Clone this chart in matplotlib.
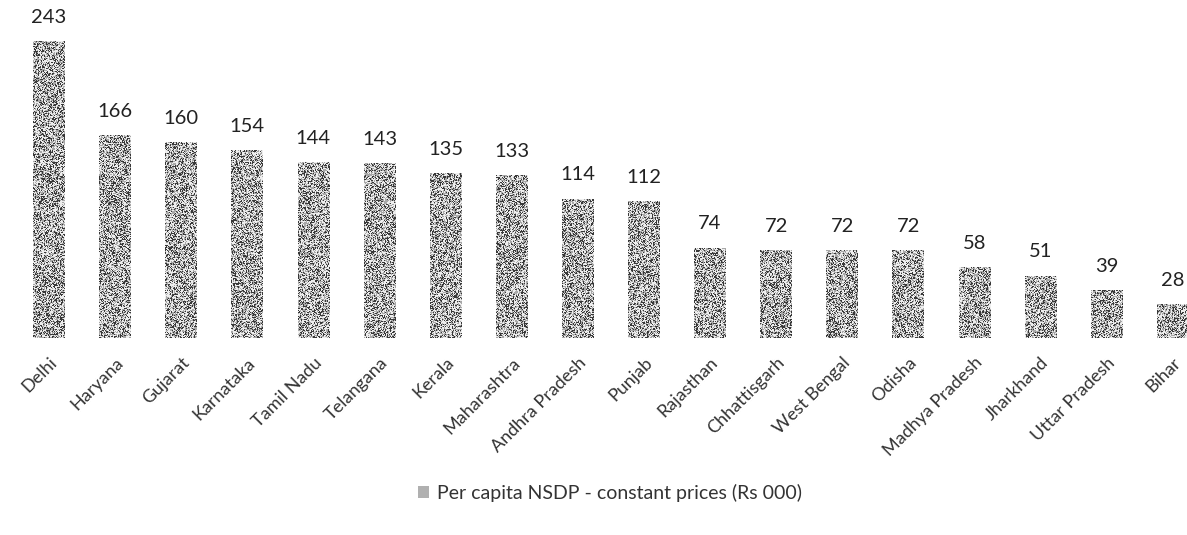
import numpy as np
import matplotlib
matplotlib.use("Agg")
import matplotlib.pyplot as plt
from matplotlib.patches import Patch

states = ["Delhi", "Haryana", "Gujarat", "Karnataka", "Tamil Nadu", "Telangana",
          "Kerala", "Maharashtra", "Andhra Pradesh", "Punjab", "Rajasthan",
          "Chhattisgarh", "West Bengal", "Odisha", "Madhya Pradesh", "Jharkhand",
          "Uttar Pradesh", "Bihar"]
nsdp_per_capita = [243, 166, 160, 154, 144, 143, 135, 133, 114, 112, 74,
                   72, 72, 72, 58, 51, 39, 28]
series_label = "Per capita NSDP - constant prices (Rs 000)"

plt.rcParams["font.family"] = ["Lato", "DejaVu Sans"]

W, H = 1187, 535
fig = plt.figure(figsize=(W / 100, H / 100), dpi=100)
base_px = 338
ax = fig.add_axes([0, 1 - base_px / H, 1, base_px / H])

step = 66.1
x0 = 49
ax.set_xlim(-x0 / step, (W - x0) / step)
ax.set_ylim(0, base_px / 1.222)

x = np.arange(len(states))
bars = ax.bar(x, nsdp_per_capita, width=0.48, color="#a8a8a8", edgecolor="none")

# grainy stipple texture inside each bar
rng = np.random.default_rng(7)
tex = rng.random((700, 1300))
tex = np.where(tex < 0.28, 0.22, np.where(tex < 0.62, 0.66, 0.93))
xl, yl = ax.get_xlim(), ax.get_ylim()
for b in bars:
    im = ax.imshow(tex, cmap="gray", vmin=0, vmax=1, interpolation="nearest",
                   extent=[xl[0], xl[1], yl[0], yl[1]], aspect="auto", zorder=3)
    im.set_clip_path(b)
ax.set_xlim(xl)
ax.set_ylim(yl)

for xi, v in zip(x, nsdp_per_capita):
    ax.annotate(f"{v}", (xi, v), xytext=(0, 11), textcoords="offset points",
                ha="center", va="bottom", fontsize=14.5, color="#222222")

ax.set_xticks(x)
ax.set_xticklabels(states, rotation=45, ha="right", rotation_mode="anchor",
                   fontsize=13, color="#333333")
ax.tick_params(axis="x", length=0, pad=12)
ax.set_yticks([])
for s in ax.spines.values():
    s.set_visible(False)

handle = Patch(facecolor="#b0b0b0", edgecolor="none", hatch="....")
fig.legend([handle], [series_label], loc="center", bbox_to_anchor=(610 / W, 1 - 493 / H),
           frameon=False, fontsize=14, handlelength=0.6, handleheight=0.6,
           handletextpad=0.4, labelcolor="#333333")

fig.savefig("out.png", dpi=100)
